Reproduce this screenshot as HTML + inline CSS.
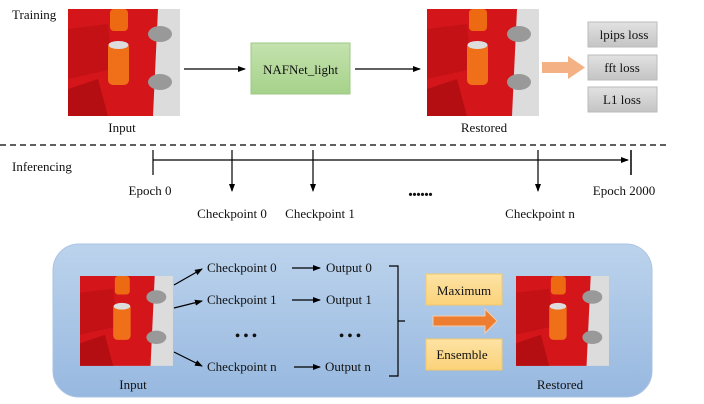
<!DOCTYPE html>
<html><head><meta charset="utf-8"><style>
html,body{margin:0;padding:0;background:#fff}
svg{display:block}
text{font-family:"Liberation Serif",serif;fill:#111}
</style></head><body>
<svg width="704" height="404" viewBox="0 0 704 404" xmlns="http://www.w3.org/2000/svg">
<defs>
<marker id="ah" markerWidth="8" markerHeight="6" refX="7" refY="3" orient="auto" markerUnits="userSpaceOnUse"><path d="M0,0 L8,3 L0,6 Z" fill="#000"/></marker>
<linearGradient id="bg" x1="0" y1="0" x2="0" y2="1"><stop offset="0" stop-color="#bcd3ec"/><stop offset="1" stop-color="#97b8e0"/></linearGradient>
<linearGradient id="gr" x1="0" y1="0" x2="0" y2="1"><stop offset="0" stop-color="#c4e2ae"/><stop offset="1" stop-color="#a6d28a"/></linearGradient>
<linearGradient id="gy" x1="0" y1="0" x2="0" y2="1"><stop offset="0" stop-color="#e2e2e2"/><stop offset="1" stop-color="#c4c4c4"/></linearGradient>
<linearGradient id="yl" x1="0" y1="0" x2="0" y2="1"><stop offset="0" stop-color="#fde3a4"/><stop offset="1" stop-color="#fbd27a"/></linearGradient>
<g id="img">
<rect x="0" y="0" width="112" height="107" fill="#dcdcdc"/>
<polygon points="0,0 90,0 85,107 0,107" fill="#d4161a"/>
<polygon points="0,20 40,15 45,60 0,70" fill="#b80f14" opacity="0.6"/>
<polygon points="0,80 30,70 40,107 0,107" fill="#a80c10" opacity="0.7"/>
<ellipse cx="92" cy="25" rx="12" ry="8" fill="#999"/>
<ellipse cx="92" cy="73" rx="12" ry="8" fill="#999"/>
<rect x="42" y="0" width="18" height="22" rx="4" fill="#ee6a12"/>
<rect x="40" y="33" width="21" height="43" rx="5" fill="#f0701a"/>
<ellipse cx="50.5" cy="36" rx="10" ry="4" fill="#ddd"/>
</g>
</defs>

<text x="12" y="19" font-size="13">Training</text>
<use href="#img" x="68" y="9"/>
<text x="122" y="132" font-size="13" text-anchor="middle">Input</text>
<line x1="184" y1="69" x2="245" y2="69" stroke="#000" stroke-width="1.2" marker-end="url(#ah)"/>
<rect x="251" y="43" width="99" height="51" fill="url(#gr)" stroke="#9cc884"/>
<text x="300.5" y="74" font-size="13" text-anchor="middle">NAFNet_light</text>
<line x1="355" y1="69" x2="420" y2="69" stroke="#000" stroke-width="1.2" marker-end="url(#ah)"/>
<use href="#img" x="427" y="9"/>
<text x="484" y="132" font-size="13" text-anchor="middle">Restored</text>
<polygon points="542,62 568,62 568,56 585,67.5 568,79 568,73 542,73" fill="#f4b183"/>
<rect x="588" y="22" width="69" height="25" fill="url(#gy)" stroke="#bbb"/>
<text x="624" y="39" font-size="13" text-anchor="middle">lpips loss</text>
<rect x="588" y="55" width="69" height="25" fill="url(#gy)" stroke="#bbb"/>
<text x="622" y="72" font-size="13" text-anchor="middle">fft loss</text>
<rect x="588" y="87" width="69" height="25" fill="url(#gy)" stroke="#bbb"/>
<text x="622" y="104" font-size="13" text-anchor="middle">L1 loss</text>
<line x1="0" y1="145" x2="666" y2="145" stroke="#000" stroke-width="1.2" stroke-dasharray="6,4"/>

<text x="12" y="171" font-size="13">Inferencing</text>
<line x1="153" y1="160" x2="628" y2="160" stroke="#000" stroke-width="1.2" marker-end="url(#ah)"/>
<line x1="153" y1="150" x2="153" y2="175" stroke="#000" stroke-width="1.2"/>
<line x1="631" y1="150" x2="631" y2="175" stroke="#000" stroke-width="1.5"/>
<line x1="232" y1="150" x2="232" y2="191" stroke="#000" stroke-width="1.2" marker-end="url(#ah)"/>
<line x1="313" y1="150" x2="313" y2="191" stroke="#000" stroke-width="1.2" marker-end="url(#ah)"/>
<line x1="538" y1="150" x2="538" y2="191" stroke="#000" stroke-width="1.2" marker-end="url(#ah)"/>
<text x="150" y="195" font-size="13" text-anchor="middle">Epoch 0</text>
<text x="624" y="195" font-size="13" text-anchor="middle">Epoch 2000</text>
<text x="420" y="196" font-size="20" text-anchor="middle" font-weight="bold" letter-spacing="-1">......</text>
<text x="232" y="218" font-size="13" text-anchor="middle">Checkpoint  0</text>
<text x="320" y="218" font-size="13" text-anchor="middle">Checkpoint  1</text>
<text x="540" y="218" font-size="13" text-anchor="middle">Checkpoint  n</text>

<rect x="53" y="244" width="599" height="153" rx="26" fill="url(#bg)" stroke="#a9c3e3"/>
<use href="#img" transform="translate(80 276) scale(0.83 0.84)"/>
<text x="133" y="389" font-size="13" text-anchor="middle">Input</text>
<line x1="174" y1="285" x2="202" y2="269" stroke="#000" stroke-width="1.2" marker-end="url(#ah)"/>
<line x1="174" y1="308" x2="202" y2="301" stroke="#000" stroke-width="1.2" marker-end="url(#ah)"/>
<line x1="174" y1="352" x2="202" y2="366" stroke="#000" stroke-width="1.2" marker-end="url(#ah)"/>
<text x="207" y="272" font-size="13">Checkpoint  0</text>
<text x="207" y="304" font-size="13">Checkpoint  1</text>
<text x="207" y="371" font-size="13">Checkpoint  n</text>
<text x="246" y="340" font-size="14" text-anchor="middle" font-weight="bold">• • •</text>
<text x="350" y="340" font-size="14" text-anchor="middle" font-weight="bold">• • •</text>
<line x1="292" y1="268" x2="320" y2="268" stroke="#000" stroke-width="1.2" marker-end="url(#ah)"/>
<line x1="292" y1="300" x2="320" y2="300" stroke="#000" stroke-width="1.2" marker-end="url(#ah)"/>
<line x1="294" y1="367" x2="320" y2="367" stroke="#000" stroke-width="1.2" marker-end="url(#ah)"/>
<text x="326" y="272" font-size="13">Output  0</text>
<text x="326" y="304" font-size="13">Output  1</text>
<text x="325" y="371" font-size="13">Output  n</text>
<path d="M389,266 H398 V376 H389 M398,321 H405" fill="none" stroke="#000" stroke-width="1.2"/>
<rect x="426" y="274" width="76" height="31" fill="url(#yl)" stroke="#f5c86a"/>
<text x="464" y="295" font-size="13" text-anchor="middle">Maximum</text>
<polygon points="433,316 485,316 485,309 497,321 485,333 485,326 433,326" fill="#ed7d31" stroke="#f8cba8"/>
<rect x="426" y="339" width="76" height="31" fill="url(#yl)" stroke="#f5c86a"/>
<text x="462" y="359" font-size="13" text-anchor="middle">Ensemble</text>
<use href="#img" transform="translate(516 276) scale(0.83 0.84)"/>
<text x="560" y="389" font-size="13" text-anchor="middle">Restored</text>
</svg>
</body></html>
